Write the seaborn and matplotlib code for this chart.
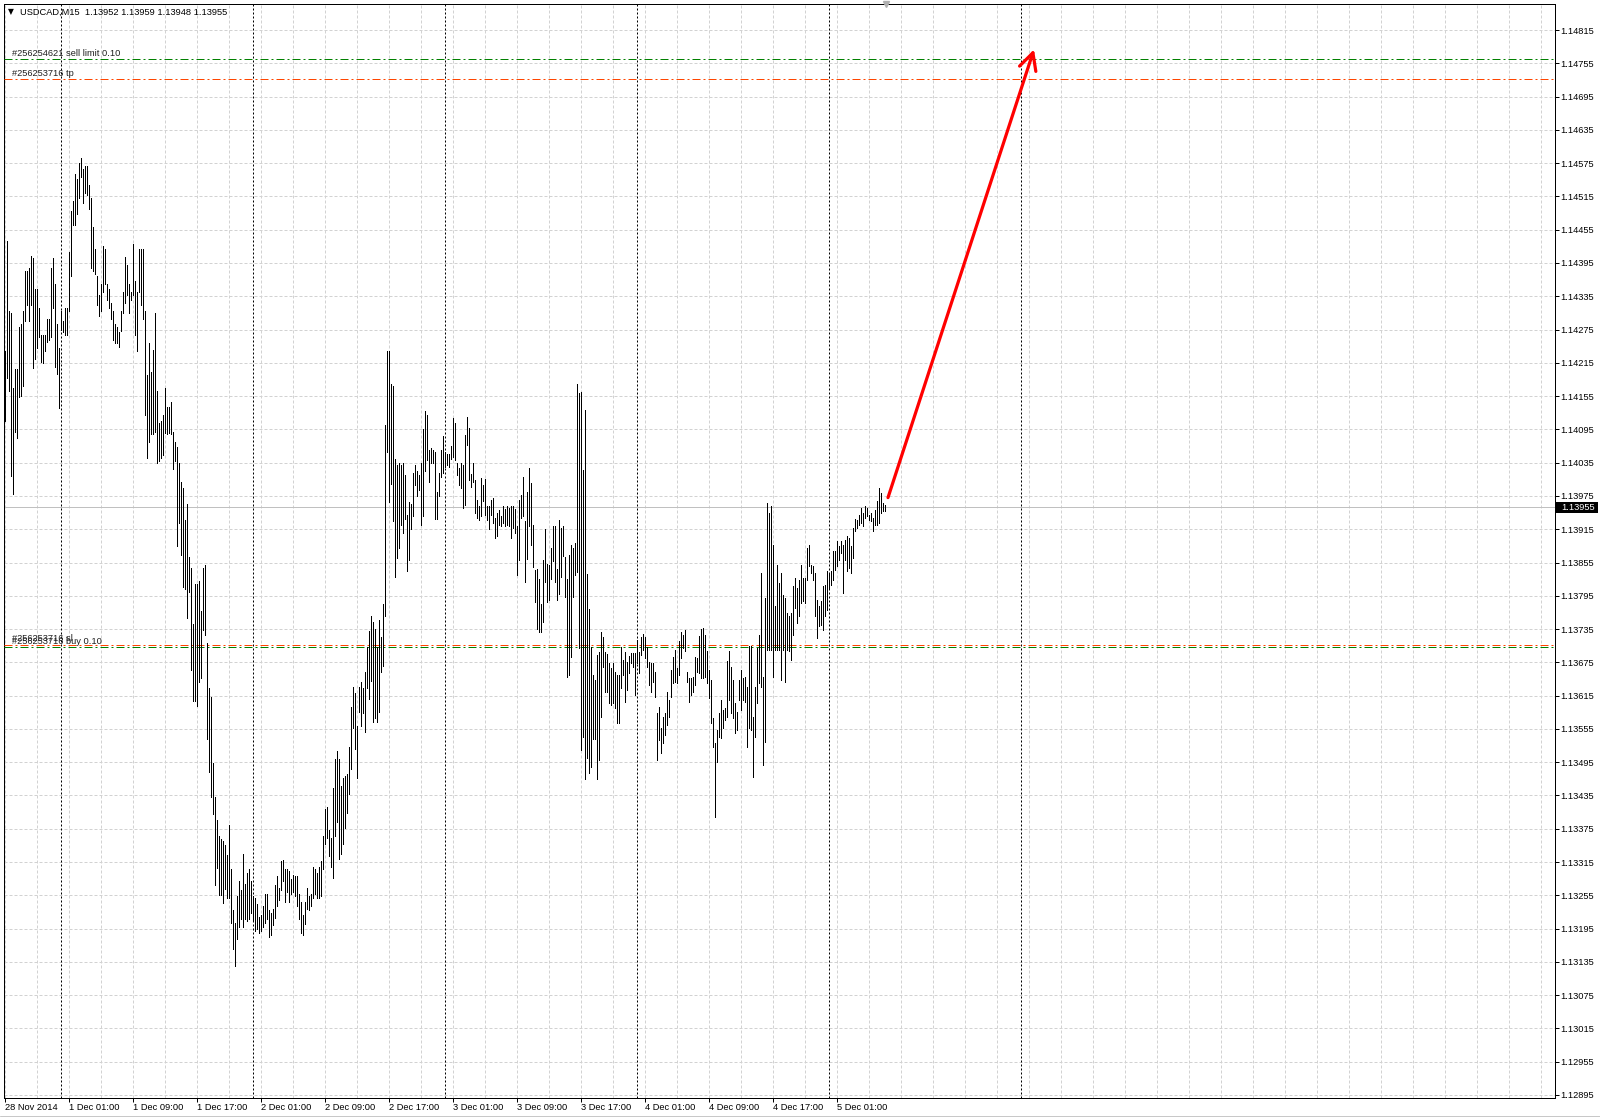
import numpy as np
import pandas as pd
import matplotlib
matplotlib.use("Agg")
import matplotlib.pyplot as plt
import matplotlib.transforms as mtransforms
from matplotlib.patches import Rectangle
import seaborn as sns

# ---------------- data ----------------
symbol = "USDCAD,M15"
last_ohlc = [1.13952, 1.13959, 1.13948, 1.13955]
first_bar_time = "2014-11-28 17:00"
friday_bars = 28
week_start = "2014-12-01 00:00"

highs = [
    1.14236, 1.14434, 1.14309, 1.14304, 1.14169, 1.14203, 1.14203, 1.14280, 1.14285, 1.14309,
    1.14381, 1.14381, 1.14386, 1.14407, 1.14404, 1.14348, 1.14348, 1.14314, 1.14265, 1.14265,
    1.14265, 1.14294, 1.14294, 1.14386, 1.14404, 1.14357, 1.14285, 1.14241, 1.14309, 1.14290,
    1.14314, 1.14314, 1.14415, 1.14488, 1.14507, 1.14555, 1.14546, 1.14575, 1.14584, 1.14565,
    1.14570, 1.14570, 1.14536, 1.14512, 1.14459, 1.14420, 1.14372, 1.14338, 1.14357, 1.14425,
    1.14420, 1.14357, 1.14348, 1.14323, 1.14309, 1.14285, 1.14280, 1.14270, 1.14309, 1.14343,
    1.14405, 1.14391, 1.14357, 1.14343, 1.14430, 1.14362, 1.14343, 1.14420, 1.14420, 1.14420,
    1.14309, 1.14193, 1.14251, 1.14198, 1.14239, 1.14304, 1.14164, 1.14106, 1.14111, 1.14121,
    1.14169, 1.14135, 1.14135, 1.14145, 1.14091, 1.14072, 1.14063, 1.14034, 1.14000, 1.13990,
    1.13932, 1.13961, 1.13865, 1.13845, 1.13744, 1.13816, 1.13816, 1.13821, 1.13768, 1.13845,
    1.13850, 1.13710, 1.13628, 1.13613, 1.13493, 1.13432, 1.13391, 1.13362, 1.13357, 1.13353,
    1.13345, 1.13328, 1.13381,
    1.13302, 1.13228, 1.13205, 1.13254, 1.13280, 1.13265, 1.13329, 1.13276, 1.13295, 1.13302,
    1.13280, 1.13254, 1.13250, 1.13239, 1.13216, 1.13220, 1.13235, 1.13258, 1.13258, 1.13228,
    1.13224, 1.13231, 1.13273, 1.13289, 1.13269, 1.13317, 1.13319, 1.13302, 1.13302, 1.13299,
    1.13284, 1.13291, 1.13289, 1.13289, 1.13258, 1.13243, 1.13220, 1.13243, 1.13269, 1.13254,
    1.13258, 1.13306, 1.13302, 1.13295, 1.13306, 1.13317, 1.13362, 1.13411, 1.13415, 1.13373,
    1.13358, 1.13448, 1.13500, 1.13515, 1.13500, 1.13452, 1.13467, 1.13471, 1.13474, 1.13523,
    1.13594, 1.13631, 1.13620, 1.13560, 1.13631, 1.13639, 1.13628, 1.13657, 1.13702, 1.13732,
    1.13758, 1.13747, 1.13736, 1.13702, 1.13751, 1.13721, 1.13781, 1.14102, 1.14237, 1.14237,
    1.14177, 1.14173, 1.14042, 1.14031, 1.14035, 1.14031, 1.14035, 1.14012, 1.13941, 1.13964,
    1.13960, 1.14016, 1.14031, 1.14020, 1.14012, 1.14035, 1.14095, 1.14128, 1.14121, 1.14057,
    1.14061, 1.14057, 1.14054, 1.13983, 1.14016, 1.14057, 1.14083, 1.14054, 1.14050, 1.14051,
    1.14065, 1.14115, 1.14106, 1.14034, 1.14025, 1.14035, 1.14031, 1.14085, 1.14118, 1.14097,
    1.14015, 1.14034, 1.14004, 1.13968, 1.13956, 1.14007, 1.13995, 1.14005, 1.13956, 1.13956,
    1.13968, 1.13971, 1.13935, 1.13944, 1.13950, 1.13938, 1.13956, 1.13951, 1.13956, 1.13953,
    1.13957, 1.13956, 1.13951, 1.13920, 1.13968, 1.13977, 1.14010, 1.13929, 1.13983, 1.14025,
    1.13998, 1.13923, 1.13841, 1.13844, 1.13826, 1.13781, 1.13859, 1.13915, 1.13853, 1.13850,
    1.13881, 1.13920, 1.13920, 1.13844, 1.13932, 1.13917, 1.13920, 1.13865, 1.13826, 1.13868,
    1.13887, 1.13881, 1.13890, 1.14177, 1.14160, 1.14163, 1.14022, 1.14130, 1.13835, 1.13772,
    1.13703, 1.13652, 1.13643, 1.13688, 1.13694, 1.13730, 1.13721, 1.13694, 1.13690, 1.13673,
    1.13664, 1.13673, 1.13658, 1.13652, 1.13652, 1.13703, 1.13679, 1.13694, 1.13676, 1.13686,
    1.13691, 1.13692, 1.13691, 1.13715, 1.13694, 1.13721, 1.13727, 1.13721, 1.13703, 1.13676,
    1.13673, 1.13673, 1.13658, 1.13583, 1.13595, 1.13556, 1.13577, 1.13583, 1.13622,
    1.13607, 1.13661, 1.13685, 1.13698, 1.13664, 1.13713, 1.13729, 1.13725, 1.13734, 1.13657,
    1.13646, 1.13646, 1.13649, 1.13685, 1.13682, 1.13722, 1.13735, 1.13737, 1.13725, 1.13695,
    1.13661, 1.13643, 1.13574, 1.13529, 1.13553, 1.13583, 1.13607, 1.13589, 1.13592, 1.13677,
    1.13695, 1.13667, 1.13643, 1.13601, 1.13586, 1.13643, 1.13661, 1.13646, 1.13649, 1.13631,
    1.13704, 1.13704, 1.13577, 1.13631, 1.13701, 1.13725, 1.13836, 1.13649, 1.13791, 1.13962,
    1.13944, 1.13956, 1.13887, 1.13776, 1.13851, 1.13818, 1.13836, 1.13797, 1.13791, 1.13764,
    1.13758, 1.13764, 1.13812, 1.13827, 1.13809, 1.13824, 1.13851, 1.13827, 1.13827, 1.13881,
    1.13887, 1.13851, 1.13848, 1.13836, 1.13788, 1.13776, 1.13785, 1.13812, 1.13815, 1.13839,
    1.13836, 1.13839, 1.13875, 1.13875, 1.13893, 1.13884, 1.13893, 1.13887, 1.13896, 1.13902,
    1.13899, 1.13884, 1.13917, 1.13933, 1.13932, 1.13941, 1.13953, 1.13944, 1.13956, 1.13953,
    1.13941, 1.13944, 1.13935, 1.13950, 1.13965, 1.13989, 1.13980, 1.13962, 1.13959,
]

lows = [
    1.14111, 1.14188, 1.14164, 1.14011, 1.13978, 1.14091, 1.14079, 1.14154, 1.14156, 1.14174,
    1.14290, 1.14319, 1.14290, 1.14319, 1.14205, 1.14222, 1.14241, 1.14261, 1.14217, 1.14214,
    1.14236, 1.14253, 1.14256, 1.14261, 1.14314, 1.14207, 1.14195, 1.14133, 1.14275, 1.14270,
    1.14265, 1.14265, 1.14309, 1.14372, 1.14463, 1.14463, 1.14483, 1.14512, 1.14550, 1.14504,
    1.14521, 1.14517, 1.14492, 1.14386, 1.14381, 1.14376, 1.14319, 1.14299, 1.14309, 1.14343,
    1.14357, 1.14328, 1.14314, 1.14294, 1.14256, 1.14251, 1.14251, 1.14243, 1.14272, 1.14304,
    1.14323, 1.14338, 1.14304, 1.14328, 1.14338, 1.14265, 1.14236, 1.14343, 1.14319, 1.14294,
    1.14121, 1.14043, 1.14072, 1.14087, 1.14087, 1.14091, 1.14034, 1.14038, 1.14043, 1.14048,
    1.14089, 1.14087, 1.14089, 1.14087, 1.14024, 1.14038, 1.13884, 1.13927, 1.13869, 1.13811,
    1.13807, 1.13755, 1.13802, 1.13662, 1.13606, 1.13606, 1.13596, 1.13640, 1.13647, 1.13734,
    1.13724, 1.13536, 1.13478, 1.13432, 1.13401, 1.13273, 1.13304, 1.13256, 1.13256, 1.13241,
    1.13266, 1.13251, 1.13251,
    1.13205, 1.13159, 1.13127, 1.13177, 1.13198, 1.13213, 1.13198, 1.13213, 1.13209, 1.13213,
    1.13224, 1.13209, 1.13190, 1.13194, 1.13187, 1.13190, 1.13198, 1.13205, 1.13213, 1.13179,
    1.13183, 1.13202, 1.13214, 1.13235, 1.13246, 1.13265, 1.13280, 1.13243, 1.13261, 1.13243,
    1.13258, 1.13261, 1.13254, 1.13235, 1.13213, 1.13187, 1.13184, 1.13204, 1.13231, 1.13229,
    1.13235, 1.13250, 1.13258, 1.13250, 1.13250, 1.13254, 1.13302, 1.13347, 1.13358, 1.13325,
    1.13306, 1.13287, 1.13362, 1.13388, 1.13321, 1.13329, 1.13347, 1.13377, 1.13403, 1.13437,
    1.13482, 1.13557, 1.13519, 1.13467, 1.13586, 1.13560, 1.13583, 1.13549, 1.13628, 1.13609,
    1.13642, 1.13568, 1.13575, 1.13568, 1.13586, 1.13657, 1.13669, 1.13758, 1.14054, 1.13964,
    1.13997, 1.13930, 1.13829, 1.13863, 1.13882, 1.13923, 1.13908, 1.13934, 1.13839, 1.13859,
    1.13915, 1.13938, 1.13994, 1.13975, 1.13986, 1.13923, 1.13938, 1.14020, 1.14039, 1.14001,
    1.14035, 1.14035, 1.13934, 1.13934, 1.13975, 1.14009, 1.14016, 1.14027, 1.14031, 1.14027,
    1.14041, 1.14046, 1.14040, 1.14013, 1.13995, 1.13989, 1.13953, 1.13959, 1.14067, 1.14004,
    1.13992, 1.14001, 1.13944, 1.13935, 1.13932, 1.13938, 1.13965, 1.13941, 1.13932, 1.13915,
    1.13941, 1.13926, 1.13899, 1.13902, 1.13923, 1.13920, 1.13926, 1.13921, 1.13923, 1.13920,
    1.13899, 1.13917, 1.13908, 1.13832, 1.13859, 1.13935, 1.13938, 1.13820, 1.13862, 1.13920,
    1.13887, 1.13847, 1.13784, 1.13736, 1.13730, 1.13730, 1.13748, 1.13820, 1.13784, 1.13787,
    1.13826, 1.13857, 1.13820, 1.13787, 1.13799, 1.13829, 1.13866, 1.13793, 1.13649, 1.13652,
    1.13684, 1.13793, 1.13832, 1.13838, 1.13700, 1.13517, 1.13541, 1.13464, 1.13502, 1.13475,
    1.13487, 1.13536, 1.13536, 1.13464, 1.13499, 1.13577, 1.13667, 1.13622, 1.13622, 1.13601,
    1.13598, 1.13601, 1.13592, 1.13565, 1.13565, 1.13628, 1.13652, 1.13604, 1.13625, 1.13655,
    1.13673, 1.13667, 1.13616, 1.13673, 1.13655, 1.13688, 1.13697, 1.13682, 1.13667, 1.13634,
    1.13622, 1.13640, 1.13613, 1.13499, 1.13535, 1.13511, 1.13529, 1.13544, 1.13562,
    1.13577, 1.13613, 1.13637, 1.13640, 1.13637, 1.13652, 1.13682, 1.13700, 1.13695, 1.13640,
    1.13604, 1.13616, 1.13622, 1.13634, 1.13658, 1.13655, 1.13646, 1.13646, 1.13649, 1.13637,
    1.13610, 1.13565, 1.13523, 1.13397, 1.13496, 1.13541, 1.13538, 1.13556, 1.13571, 1.13577,
    1.13607, 1.13583, 1.13574, 1.13547, 1.13553, 1.13607, 1.13589, 1.13607, 1.13604, 1.13523,
    1.13556, 1.13553, 1.13469, 1.13541, 1.13601, 1.13637, 1.13631, 1.13490, 1.13532, 1.13698,
    1.13698, 1.13698, 1.13649, 1.13698, 1.13698, 1.13698, 1.13643, 1.13698, 1.13640, 1.13698,
    1.13695, 1.13679, 1.13725, 1.13773, 1.13746, 1.13758, 1.13782, 1.13785, 1.13782, 1.13824,
    1.13848, 1.13836, 1.13824, 1.13758, 1.13719, 1.13740, 1.13743, 1.13734, 1.13758, 1.13770,
    1.13809, 1.13815, 1.13824, 1.13842, 1.13848, 1.13860, 1.13872, 1.13800, 1.13860, 1.13839,
    1.13845, 1.13836, 1.13863, 1.13911, 1.13917, 1.13923, 1.13926, 1.13920, 1.13935, 1.13938,
    1.13932, 1.13929, 1.13911, 1.13923, 1.13923, 1.13926, 1.13944, 1.13947, 1.13948,
]

price_ticks = [1.12895, 1.12955, 1.13015, 1.13075, 1.13135, 1.13195, 1.13255, 1.13315,
               1.13375, 1.13435, 1.13495, 1.13555, 1.13615, 1.13675, 1.13735, 1.13795,
               1.13855, 1.13915, 1.13975, 1.14035, 1.14095, 1.14155, 1.14215, 1.14275,
               1.14335, 1.14395, 1.14455, 1.14515, 1.14575, 1.14635, 1.14695, 1.14755,
               1.14815]

order_labels = ["#256254621 sell limit 0.10", "#256253716 tp",
                "#256253716 sl", "#256253716 buy 0.10"]
order_prices = [1.14762, 1.14726, 1.13707, 1.13702]
order_kinds = ["pending", "tp", "sl", "open"]

arrow_times = ["2014-12-05 07:22:30", "2014-12-06 01:37:30"]
arrow_prices = [1.13972, 1.14780]

# ---------------- helpers ----------------
n = min(len(highs), len(lows))
highs = np.array(highs[:n])
lows = np.array(lows[:n])
bar_td = pd.Timedelta("15min")
t_first = pd.Timestamp(first_bar_time)
t_week = pd.Timestamp(week_start)


def time_of(i):
    if i < friday_bars:
        return t_first + i * bar_td
    return t_week + (i - friday_bars) * bar_td


def index_of(ts):
    ts = pd.Timestamp(ts)
    return friday_bars + (ts - t_week) / bar_td


W, H = 1600, 1118
AX_L, AX_R, AX_T, AX_B = 4, 1555, 4, 1098   # pixel frame of the chart area
PX_PER_BAR = 2.0
PRICE_PER_PX = 0.0006 / 33.28

sns.set_theme(style="white")
plt.rcParams['font.family'] = ['Liberation Sans', 'DejaVu Sans']
FS = 6.7
TXT = '#000000'
GRID = '#d2d2d2'

fig = plt.figure(figsize=(W / 100, H / 100), dpi=100)
fig.patch.set_facecolor('white')
ax = fig.add_axes([AX_L / W, 1 - AX_B / H, (AX_R - AX_L) / W, (AX_B - AX_T) / H])
ax.set_facecolor('white')

n_slots = (AX_R - AX_L) / PX_PER_BAR
ax.set_xlim(-0.5, -0.5 + n_slots)
y_top_px, y_bot_px = 30.0, 1095.0  # pixel rows of top / bottom tick labels
ax.set_ylim(price_ticks[0] - (AX_B - y_bot_px) * PRICE_PER_PX,
            price_ticks[-1] + (y_top_px - AX_T) * PRICE_PER_PX)

# grid: horizontal at every price tick
for p in price_ticks:
    ax.axhline(p, color=GRID, lw=0.72, ls=(0, (3, 2)), zorder=1)

# time slots incl. future area
total_slots = int(np.ceil(n_slots)) + 1
slot_times = [time_of(i) for i in range(total_slots)]
last_time = time_of(n - 1)
for i, t in enumerate(slot_times):
    if t.minute == 0 and t.hour % 4 == 1:
        ax.axvline(i, color=GRID, lw=0.72, ls=(0, (3, 2)), zorder=1)
    if (t.minute == 0 and t.hour == 0 and i >= friday_bars
            and t <= last_time + pd.Timedelta("1D")):
        ax.axvline(i, color='black', lw=0.72, ls=(0, (2, 2)), zorder=2)

# current bid line
ax.axhline(last_ohlc[3], color='#c0c0c0', lw=0.72, zorder=2)

# order lines
kind_color = {"pending": "#008000", "open": "#008000", "tp": "#FF4500", "sl": "#FF4500"}
lab_tr = mtransforms.blended_transform_factory(ax.transAxes, ax.transData)
for lab, p, k in zip(order_labels, order_prices, order_kinds):
    ax.axhline(p, color=kind_color[k], lw=0.72, ls=(0, (8, 3, 2, 3)), zorder=3)
    ax.annotate(lab, xy=(8 / (AX_R - AX_L), p), xycoords=lab_tr,
                xytext=(0, 4.3), textcoords='offset points',
                ha='left', va='center', fontsize=FS, color='#202020', zorder=4)

# price bars
x_idx = np.arange(n)
ax.vlines(x_idx, lows, highs, colors='black', linewidth=0.72,
          antialiased=False, zorder=5)

# arrow
a0 = (index_of(arrow_times[0]), arrow_prices[0])
a1 = (index_of(arrow_times[1]), arrow_prices[1])
ax.annotate('', xy=a1, xytext=a0,
            arrowprops=dict(arrowstyle='->,head_length=0.55,head_width=0.28',
                            color='#ff0000', lw=2.3, shrinkA=0, shrinkB=0,
                            mutation_scale=22),
            zorder=6)

# chart shift marker at the top
ax.plot([n - 0.5], [1.0], transform=mtransforms.blended_transform_factory(ax.transData, ax.transAxes),
        marker='v', markersize=4, color='#b0b0b0', clip_on=False, zorder=7)

# x ticks
tick_idx, tick_lab = [0], [f"{time_of(0).day} {time_of(0):%b %Y}"]
for i in range(1, n):
    t = time_of(i)
    if t.minute == 0 and t.hour in (1, 9, 17):
        tick_idx.append(i)
        tick_lab.append(f"{t.day} {t:%b %H:%M}")
ax.set_xticks(tick_idx)
ax.set_xticklabels(tick_lab, ha='left')
ax.tick_params(axis='x', direction='out', length=2.6, width=0.72, pad=1.0,
               labelsize=FS, colors=TXT, bottom=True)

# y ticks (right side)
ax.yaxis.tick_right()
ax.set_yticks(price_ticks)
ax.set_yticklabels([f"{p:.5f}" for p in price_ticks])
ax.tick_params(axis='y', direction='out', length=2.6, width=0.72, pad=1.5,
               labelsize=FS, colors=TXT, right=True, left=False)

for s in ax.spines.values():
    s.set_color('black')
    s.set_linewidth(0.72)
ax.grid(False)

# current price box on the axis
box_tr = mtransforms.blended_transform_factory(ax.transAxes, ax.transData)
span = AX_R - AX_L
ax.add_patch(Rectangle((1.0 + 1 / span, last_ohlc[3] - 5.5 * PRICE_PER_PX),
                       42 / span, 11 * PRICE_PER_PX, transform=box_tr,
                       facecolor='black', edgecolor='black', lw=0,
                       clip_on=False, zorder=10))
ax.text(1.0 + 6.5 / span, last_ohlc[3], f"{last_ohlc[3]:.5f}", transform=box_tr,
        ha='left', va='center', fontsize=FS, color='white', zorder=11, clip_on=False)

# title
title = f"{symbol}  " + " ".join(f"{v:.5f}" for v in last_ohlc)
fig.text(20 / W, 1 - 12.7 / H, title, ha='left', va='center', fontsize=FS, color=TXT)
fig.text(8 / W, 1 - 12.0 / H, "\u25BC", ha='left', va='center', fontsize=5.5,
         color=TXT, family=['DejaVu Sans'])

# outer window border line
fig.add_artist(plt.Line2D([0, 1], [1 - 1116 / H] * 2, color='#c8c8c8', lw=0.72))

fig.savefig("out.png", dpi=100, facecolor='white')
